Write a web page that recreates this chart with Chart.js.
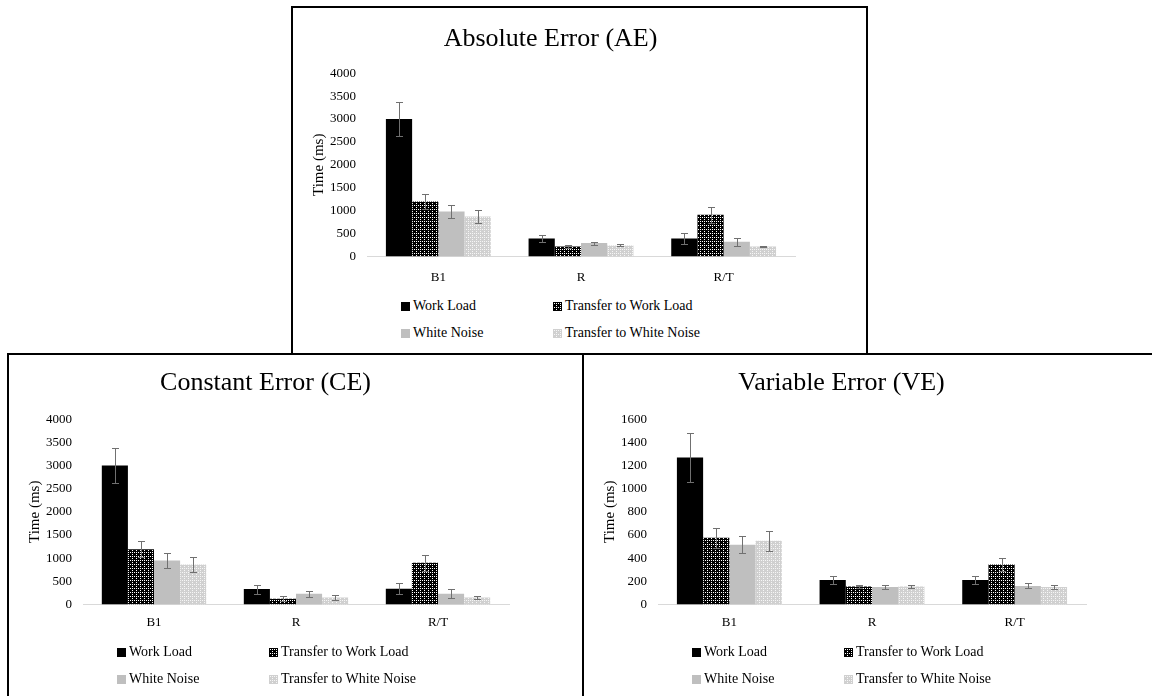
<!DOCTYPE html>
<html>
<head>
<meta charset="utf-8">
<script src="https://cdn.jsdelivr.net/npm/chart.js@4.4.1/dist/chart.umd.min.js"></script>
<style>
  html, body { margin: 0; padding: 0; background: #fff; width: 1152px; height: 696px; overflow: hidden; position: relative; }
  .box { position: absolute; border: 2px solid #000; box-sizing: border-box; background: #fff; overflow: hidden; }
  .box > canvas { position: absolute; left: 0; top: 0; }
  .sw { position: absolute; width: 9px; height: 9px; }
  .lt { position: absolute; font: 14px "Liberation Serif", "Times New Roman", serif; color: #000; line-height: 16px; white-space: nowrap; }
</style>
</head>
<body>
<div class="box" id="boxAE" style="left:291px; top:6px; width:577px; height:349px;"><canvas id="ae" width="572" height="290"></canvas></div>
<div class="box" id="boxCE" style="left:7px; top:353px; width:577px; height:400px;"><canvas id="ce" width="573" height="290"></canvas></div>
<div class="box" id="boxVE" style="left:582px; top:353px; width:600px; height:400px;"><canvas id="ve" width="568" height="290"></canvas></div>
<script>
// categories and series
var categories = ["B1", "R", "R/T"];
var seriesNames = ["Work Load", "Transfer to Work Load", "White Noise", "Transfer to White Noise"];

// Absolute Error (AE)
var aeWorkLoad = [3000, 390, 390];
var aeWorkLoadErr = [370, 85, 120];
var aeTransferWorkLoad = [1200, 215, 910];
var aeTransferWorkLoadErr = [160, 30, 170];
var aeWhiteNoise = [980, 290, 320];
var aeWhiteNoiseErr = [150, 35, 85];
var aeTransferWhiteNoise = [870, 240, 215];
var aeTransferWhiteNoiseErr = [150, 20, 20];

// Constant Error (CE)
var ceWorkLoad = [3000, 330, 340];
var ceWorkLoadErr = [370, 95, 120];
var ceTransferWorkLoad = [1190, 120, 900];
var ceTransferWorkLoadErr = [170, 55, 170];
var ceWhiteNoise = [950, 230, 230];
var ceWhiteNoiseErr = [170, 70, 100];
var ceTransferWhiteNoise = [860, 150, 150];
var ceTransferWhiteNoiseErr = [170, 55, 40];

// Variable Error (VE)
var veWorkLoad = [1270, 210, 210];
var veWorkLoadErr = [215, 35, 35];
var veTransferWorkLoad = [575, 155, 345];
var veTransferWorkLoadErr = [85, 15, 60];
var veWhiteNoise = [515, 150, 160];
var veWhiteNoiseErr = [75, 15, 22];
var veTransferWhiteNoise = [550, 155, 150];
var veTransferWhiteNoiseErr = [85, 12, 20];

var serif = '"Liberation Serif", "Times New Roman", serif';
Chart.defaults.font.family = serif;
Chart.defaults.color = "#000";

// dotted fill like the excel patterns
function makePattern(ctx, base, dot) {
    var c = document.createElement("canvas");
    c.width = 4; c.height = 4;
    var g = c.getContext("2d");
    g.fillStyle = base; g.fillRect(0, 0, 4, 4);
    g.fillStyle = dot;
    g.fillRect(1, 1, 1, 1);
    g.fillRect(3, 3, 1, 1);
    g.fillRect(3, 1, 1, 1);
    return ctx.createPattern(c, "repeat");
}

// error bars from dataset.errors
var errorBars = {
    id: "errorBars",
    afterDatasetsDraw: function(chart) {
        var ctx = chart.ctx, y = chart.scales.y;
        chart.data.datasets.forEach(function(ds, i) {
            var meta = chart.getDatasetMeta(i);
            meta.data.forEach(function(bar, j) {
                var v = ds.data[j], e = ds.errors[j];
                var top = Math.round(y.getPixelForValue(v + e)) + 0.5;
                var bot = Math.round(y.getPixelForValue(v - e)) + 0.5;
                var x = Math.round(bar.x) + 0.5;
                ctx.save();
                ctx.strokeStyle = "#707070";
                ctx.lineWidth = 1;
                ctx.beginPath();
                ctx.moveTo(x, top); ctx.lineTo(x, bot);
                ctx.moveTo(x - 3.5, top); ctx.lineTo(x + 3.5, top);
                ctx.moveTo(x - 3.5, bot); ctx.lineTo(x + 3.5, bot);
                ctx.stroke();
                ctx.restore();
            });
        });
    }
};

function drawChart(id, boxId, title, means, errs, yMax, yStep, titlePad, xPad, rightPad, bottomPad, legendY) {
    var canvas = document.getElementById(id);
    var ctx = canvas.getContext("2d");
    var fills = [
        "#000000",
        makePattern(ctx, "#000000", "#ffffff"),
        "#bfbfbf",
        makePattern(ctx, "#d0d0d0", "#f6f6f6")
    ];
    var datasets = seriesNames.map(function(name, i) {
        return {
            label: name,
            data: means[i],
            errors: errs[i],
            backgroundColor: fills[i],
            borderWidth: 0,
            categoryPercentage: 0.735,
            barPercentage: 1.0
        };
    });
    new Chart(ctx, {
        type: "bar",
        data: { labels: categories, datasets: datasets },
        plugins: [errorBars],
        options: {
            responsive: false,
            animation: false,
            devicePixelRatio: 1,
            layout: { padding: { left: 13, right: rightPad, top: 0, bottom: bottomPad } },
            plugins: {
                legend: { display: false },
                tooltip: { enabled: false },
                title: {
                    display: true,
                    text: title,
                    color: "#000",
                    font: { size: 26, weight: "normal", family: serif },
                    padding: titlePad
                }
            },
            scales: {
                x: {
                    grid: { display: false, drawTicks: false },
                    border: { display: true, color: "#d9d9d9", width: 1 },
                    ticks: { color: "#000", font: { size: 13 }, padding: xPad }
                },
                y: {
                    min: 0,
                    max: yMax,
                    afterFit: function(s) { s.width = 61; },
                    grid: { display: false, drawTicks: false },
                    border: { display: false },
                    ticks: {
                        stepSize: yStep, color: "#000", font: { size: 13 }, padding: 11,
                        callback: function(v) { return String(v); }
                    },
                    title: {
                        display: true,
                        text: "Time (ms)",
                        color: "#000",
                        font: { size: 15, family: serif },
                        padding: { top: 4, bottom: 4 }
                    }
                }
            }
        }
    });

    // legend in two columns
    var box = document.getElementById(boxId);
    var cols = [108, 260];
    datasets.forEach(function(ds, i) {
        var cx = cols[i % 2];
        var cy = legendY + Math.floor(i / 2) * 27.3;
        var sw = document.createElement("canvas");
        sw.className = "sw";
        sw.width = 9; sw.height = 9;
        sw.style.left = cx + "px";
        sw.style.top = Math.round(cy - 4.5) + "px";
        var g = sw.getContext("2d");
        var f = ds.backgroundColor;
        if (typeof f !== "string") {
            f = i === 1 ? makePattern(g, "#000000", "#ffffff") : makePattern(g, "#d0d0d0", "#f6f6f6");
        }
        g.fillStyle = f;
        g.fillRect(0, 0, 9, 9);
        box.appendChild(sw);
        var t = document.createElement("div");
        t.className = "lt";
        t.textContent = ds.label;
        t.style.left = (cx + 12) + "px";
        t.style.top = Math.round(cy - 8) + "px";
        box.appendChild(t);
    });
}

drawChart("ae", "boxAE", "Absolute Error (AE)",
    [aeWorkLoad, aeTransferWorkLoad, aeWhiteNoise, aeTransferWhiteNoise],
    [aeWorkLoadErr, aeTransferWorkLoadErr, aeWhiteNoiseErr, aeTransferWhiteNoiseErr],
    4000, 500, { top: 16, bottom: 18 }, 13, 70, 0, 298);

drawChart("ce", "boxCE", "Constant Error (CE)",
    [ceWorkLoad, ceTransferWorkLoad, ceWhiteNoise, ceTransferWhiteNoise],
    [ceWorkLoadErr, ceTransferWorkLoadErr, ceWhiteNoiseErr, ceTransferWhiteNoiseErr],
    4000, 500, { top: 13, bottom: 20 }, 10, 73, 5, 297);

drawChart("ve", "boxVE", "Variable Error (VE)",
    [veWorkLoad, veTransferWorkLoad, veWhiteNoise, veTransferWhiteNoise],
    [veWorkLoadErr, veTransferWorkLoadErr, veWhiteNoiseErr, veTransferWhiteNoiseErr],
    1600, 200, { top: 13, bottom: 20 }, 10, 66, 5, 297);
</script>
</body>
</html>
